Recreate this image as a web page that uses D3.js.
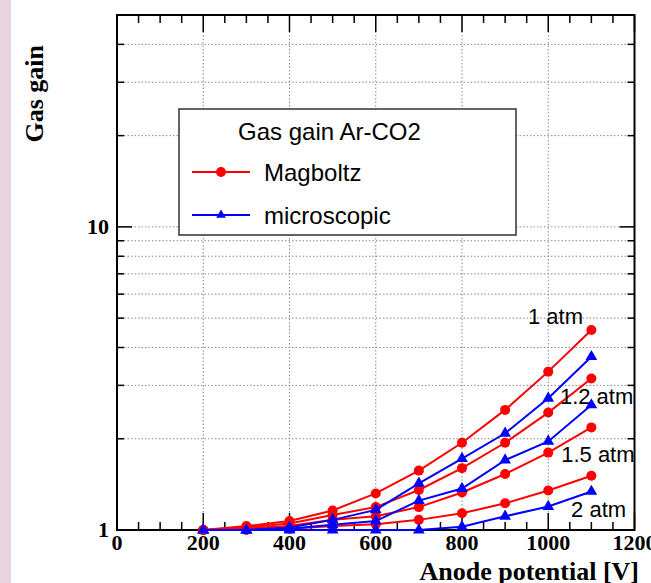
<!DOCTYPE html>
<html>
<head>
<meta charset="utf-8">
<title>Gas gain Ar-CO2</title>
<script src="https://cdn.jsdelivr.net/npm/d3@7/dist/d3.min.js"></script>
<style>
body { margin: 0; background: #fff; }
svg { display: block; }
.tick-label { font-family: "Liberation Serif", "Times New Roman", serif; font-weight: bold; font-size: 22px; }
.axis-title { font-family: "Liberation Serif", "Times New Roman", serif; font-weight: bold; font-size: 26px; }
.sans { font-family: "Liberation Sans", Arial, Helvetica, sans-serif; }
</style>
</head>
<body>
<script>

// anode potential [V]
var voltages = [200, 300, 400, 500, 600, 700, 800, 900, 1000, 1100];

// Magboltz gas gain, one array per pressure
var magboltz1atm  = [1.00, 1.03, 1.07, 1.16, 1.32, 1.57, 1.94, 2.49, 3.33, 4.57];
var magboltz12atm = [1.00, 1.02, 1.05, 1.12, 1.19, 1.355, 1.60, 1.94, 2.44, 3.16];
var magboltz15atm = [1.00, 1.01, 1.03, 1.08, 1.11, 1.19, 1.33, 1.53, 1.80, 2.18];
var magboltz2atm  = [1.00, 1.00, 1.01, 1.03, 1.045, 1.08, 1.135, 1.225, 1.35, 1.51];

// microscopic gas gain
var micro1atm  = [1.00, 1.00, 1.02, 1.08, 1.165, 1.425, 1.72, 2.085, 2.72, 3.73];
var micro12atm = [1.00, 1.00, 1.01, 1.04, 1.07, 1.25, 1.37, 1.70, 1.96, 2.585];
var micro2atm  = [1.00, 1.00, 1.00, 1.00, 1.00, 1.00, 1.025, 1.11, 1.195, 1.34];

// pressure labels, [V, gain] where the text starts
var pressureLabels = ["1 atm", "1.2 atm", "1.5 atm", "2 atm"];
var pressureLabelPos = [[953, 4.78], [1027, 2.60], [1030, 1.676], [1053, 1.104]];

var xTicks = [0, 200, 400, 600, 800, 1000, 1200];
var yTickLabels = [1, 10];

var legendTitle = "Gas gain Ar-CO2";
var legendNames = ["Magboltz", "microscopic"];

var width = 651, height = 583;
var margin = { top: 15, right: 16.5, bottom: 53, left: 117 };

var svg = d3.select("body").append("svg")
  .attr("width", width).attr("height", height);

// pink strip at the left border
svg.append("rect").attr("x", 0).attr("y", 0).attr("width", 11).attr("height", height)
  .attr("fill", "#e9d3de");

var x = d3.scaleLinear().domain([0, 1200]).range([margin.left, width - margin.right]);
var y = d3.scaleLog().domain([1, 50]).range([height - margin.bottom, margin.top]);

var x0 = x.range()[0], x1 = x.range()[1], y0 = y.range()[0], y1 = y.range()[1];

// grid (dotted)
var xGrid = [200, 400, 600, 800, 1000];
var yGrid = [2, 3, 4, 5, 6, 7, 8, 9, 10, 20, 30, 40];
var grid = svg.append("g").attr("stroke", "#8a8a8a").attr("stroke-width", 1)
  .attr("stroke-dasharray", "1.5,2");
grid.selectAll(".gx").data(xGrid).enter().append("line")
  .attr("x1", function(d) { return x(d); }).attr("x2", function(d) { return x(d); })
  .attr("y1", y0).attr("y2", y1);
grid.selectAll(".gy").data(yGrid).enter().append("line")
  .attr("y1", function(d) { return y(d); }).attr("y2", function(d) { return y(d); })
  .attr("x1", x0).attr("x2", x1);

// ticks inside the frame, on all four sides
var ticks = svg.append("g").attr("stroke", "#000").attr("stroke-width", 1.5);
var xMinor = d3.range(0, 1201, 50);
ticks.selectAll(".tb").data(xMinor).enter().append("line")
  .attr("x1", function(d) { return x(d); }).attr("x2", function(d) { return x(d); })
  .attr("y1", y0).attr("y2", function(d) { return y0 - (d % 200 === 0 ? 17 : 8); });
ticks.selectAll(".tt").data(xMinor).enter().append("line")
  .attr("x1", function(d) { return x(d); }).attr("x2", function(d) { return x(d); })
  .attr("y1", y1).attr("y2", function(d) { return y1 + (d % 200 === 0 ? 17 : 8); });
var yMinor = [2, 3, 4, 5, 6, 7, 8, 9, 10, 20, 30, 40];
ticks.selectAll(".tl").data(yMinor).enter().append("line")
  .attr("y1", function(d) { return y(d); }).attr("y2", function(d) { return y(d); })
  .attr("x1", x0).attr("x2", function(d) { return x0 + (d === 10 ? 15 : 7); });
ticks.selectAll(".tr").data(yMinor).enter().append("line")
  .attr("y1", function(d) { return y(d); }).attr("y2", function(d) { return y(d); })
  .attr("x1", x1).attr("x2", function(d) { return x1 - (d === 10 ? 15 : 7); });

// frame
svg.append("rect").attr("x", x0).attr("y", y1).attr("width", x1 - x0).attr("height", y0 - y1)
  .attr("fill", "none").attr("stroke", "#000").attr("stroke-width", 2);

// tick labels
svg.append("g").selectAll("text").data(xTicks).enter().append("text")
  .attr("class", "tick-label")
  .attr("x", function(d) { return x(d); }).attr("y", y0 + 20)
  .attr("text-anchor", "middle")
  .text(function(d) { return d; });
svg.append("g").selectAll("text").data(yTickLabels).enter().append("text")
  .attr("class", "tick-label")
  .attr("x", x0 - 8).attr("y", function(d) { return y(d) + 7; })
  .attr("text-anchor", "end")
  .text(function(d) { return d; });

// axis titles
svg.append("text").attr("class", "axis-title")
  .attr("x", 639).attr("y", 580).attr("text-anchor", "end")
  .text("Anode potential [V]");
svg.append("text").attr("class", "axis-title")
  .attr("transform", "translate(43,45) rotate(-90)")
  .attr("text-anchor", "end")
  .text("Gas gain");

// curves
var line = d3.line()
  .x(function(d, i) { return x(voltages[i]); })
  .y(function(d) { return y(d); });

var tri = d3.symbol().type(d3.symbolTriangle).size(60);

function drawSeries(values, color, marker) {
  var g = svg.append("g");
  g.append("path").datum(values)
    .attr("fill", "none").attr("stroke", color).attr("stroke-width", 2)
    .attr("d", line);
  if (marker === "circle") {
    g.selectAll("circle").data(values).enter().append("circle")
      .attr("cx", function(d, i) { return x(voltages[i]); })
      .attr("cy", function(d) { return y(d); })
      .attr("r", 5).attr("fill", color);
  } else {
    g.selectAll("path.m").data(values).enter().append("path")
      .attr("class", "m")
      .attr("transform", function(d, i) { return "translate(" + x(voltages[i]) + "," + y(d) + ")"; })
      .attr("d", tri).attr("fill", color);
  }
}

var red = "#ff0000", blue = "#0000ff";
drawSeries(magboltz2atm, red, "circle");
drawSeries(micro2atm, blue, "triangle");
drawSeries(magboltz15atm, red, "circle");
drawSeries(magboltz12atm, red, "circle");
drawSeries(micro12atm, blue, "triangle");
drawSeries(magboltz1atm, red, "circle");
drawSeries(micro1atm, blue, "triangle");

// pressure labels
svg.append("g").selectAll("text").data(pressureLabels).enter().append("text")
  .attr("class", "sans").attr("font-size", "22px").attr("fill", "#000")
  .attr("x", function(d, i) { return x(pressureLabelPos[i][0]); })
  .attr("y", function(d, i) { return y(pressureLabelPos[i][1]); })
  .text(function(d) { return d; });

// legend
var leg = svg.append("g").attr("transform", "translate(179,109)");
leg.append("rect").attr("width", 337).attr("height", 126)
  .attr("fill", "#fff").attr("stroke", "#333").attr("stroke-width", 1.5);
leg.append("text").attr("class", "sans").attr("font-size", "24px")
  .attr("x", 59).attr("y", 31).text(legendTitle);
var legColors = [red, blue];
legendNames.forEach(function(name, i) {
  var ly = 63 + i * 43;
  leg.append("line").attr("x1", 13).attr("x2", 71).attr("y1", ly).attr("y2", ly)
    .attr("stroke", legColors[i]).attr("stroke-width", 2);
  if (i === 0) {
    leg.append("circle").attr("cx", 42).attr("cy", ly).attr("r", 5).attr("fill", red);
  } else {
    leg.append("path").attr("transform", "translate(42," + ly + ")")
      .attr("d", d3.symbol().type(d3.symbolTriangle).size(40)).attr("fill", blue);
  }
  leg.append("text").attr("class", "sans").attr("font-size", "24px")
    .attr("x", 85).attr("y", ly + 9).text(name);
});

</script>
</body>
</html>
